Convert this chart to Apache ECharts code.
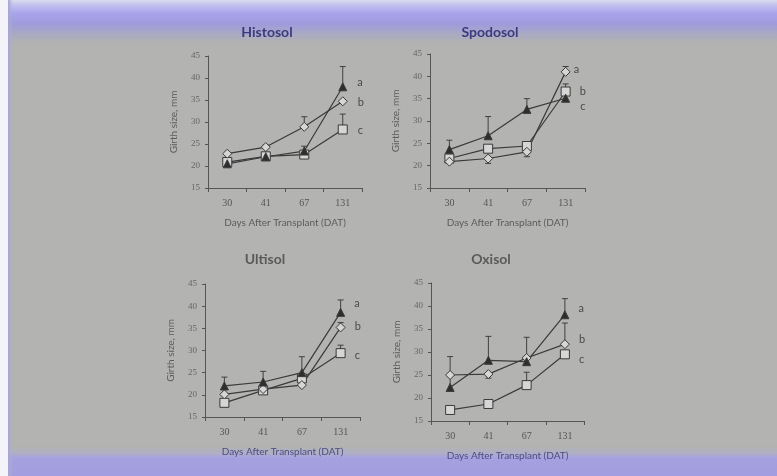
<!DOCTYPE html>
<html><head><meta charset="utf-8">
<script src="https://cdn.jsdelivr.net/npm/echarts@6/dist/echarts.min.js"></script>
<style>html,body{margin:0;padding:0;background:#b3b3b1}#c{width:777px;height:476px}</style>
</head><body><div id="c"></div>
<script>
const categories = ['30', '41', '67', '131'];
const panelTitles = ['Histosol', 'Spodosol', 'Ultisol', 'Oxisol'];
const yMin = 15, yMax = 45, yStep = 5;

// Histosol
const histosolTriangle = [20.5, 22.1, 23.4, 38.0];
const histosolDiamond  = [22.8, 24.3, 28.9, 34.7];
const histosolSquare   = [20.9, 22.2, 22.6, 28.3];
const histosolTriangleErr = [null, null, 24.5, 42.6];
const histosolDiamondErr  = [null, 24.8, 31.2, null];
const histosolSquareErr   = [null, null, null, 31.8];
const histosolLetters = ['a', 'b', 'c'];

// Spodosol
const spodosolTriangle = [23.6, 26.7, 32.6, 35.1];
const spodosolDiamond  = [20.9, 21.6, 23.1, 41.0];
const spodosolSquare   = [21.6, 23.8, 24.4, 36.6];
const spodosolTriangleErr = [25.7, 31.0, 35.0, null];
const spodosolDiamondErr  = [null, 20.5, 22.0, 42.2];
const spodosolSquareErr   = [null, null, null, 38.3];
const spodosolLetters = ['c', 'a', 'b'];

// Ultisol
const ultisolTriangle = [22.0, 22.9, 25.0, 38.6];
const ultisolDiamond  = [20.1, 21.3, 22.2, 35.2];
const ultisolSquare   = [18.2, 21.0, 23.7, 29.4];
const ultisolTriangleErr = [24.0, 25.3, 28.6, 41.4];
const ultisolDiamondErr  = [null, null, null, 36.3];
const ultisolSquareErr   = [null, null, null, 31.2];
const ultisolLetters = ['a', 'b', 'c'];

// Oxisol
const oxisolTriangle = [22.3, 28.2, 27.9, 38.1];
const oxisolDiamond  = [25.0, 25.2, 28.7, 31.7];
const oxisolSquare   = [17.4, 18.7, 22.8, 29.5];
const oxisolTriangleErr = [29.0, 33.4, 33.2, 41.6];
const oxisolDiamondErr  = [null, 24.3, null, 36.3];
const oxisolSquareErr   = [null, null, 25.6, null];
const oxisolLetters = ['a', 'b', 'c'];

const panels = [
  {tri: histosolTriangle, dia: histosolDiamond, sq: histosolSquare,
   triErr: histosolTriangleErr, diaErr: histosolDiamondErr, sqErr: histosolSquareErr, letters: histosolLetters},
  {tri: spodosolTriangle, dia: spodosolDiamond, sq: spodosolSquare,
   triErr: spodosolTriangleErr, diaErr: spodosolDiamondErr, sqErr: spodosolSquareErr, letters: spodosolLetters},
  {tri: ultisolTriangle, dia: ultisolDiamond, sq: ultisolSquare,
   triErr: ultisolTriangleErr, diaErr: ultisolDiamondErr, sqErr: ultisolSquareErr, letters: ultisolLetters},
  {tri: oxisolTriangle, dia: oxisolDiamond, sq: oxisolSquare,
   triErr: oxisolTriangleErr, diaErr: oxisolDiamondErr, sqErr: oxisolSquareErr, letters: oxisolLetters}
];

// layout (pixels)
const grids = [
  {left: 208, top: 56, width: 154, height: 132},
  {left: 430, top: 54, width: 155, height: 134},
  {left: 205, top: 284, width: 155, height: 133},
  {left: 431, top: 283, width: 153, height: 138}
];
const titlePos = [
  {x: 262, y: 20, color: '#3b3a82'},
  {x: 485, y: 20, color: '#3b3a82'},
  {x: 260, y: 247, color: '#5a5a5a'},
  {x: 486, y: 247, color: '#5a5a5a'}
];
// letter label offsets [dx, dy] per (triangle, diamond, square)
const letterOffsets = [
  [[10, -4], [10, 1], [10, 1]],
  [[10, 8], [3, -2], [9, 0]],
  [[9, -9], [9, -1], [9, 2]],
  [[9, -6], [9, -5], [9, 5]]
];
const nameColors = ['#5c5c5c', '#5c5c5c', '#4d4c86', '#4d4c86'];

const lineColor = '#3a3a3a';
const openFill = '#d6d6d6';

function errData(vals, ends) {
  const out = [];
  vals.forEach((v, i) => { if (ends[i] != null) out.push([i, v, ends[i]]); });
  return out;
}
function errSeries(gi, vals, ends) {
  return {
    type: 'custom', xAxisIndex: gi, yAxisIndex: gi, z: 1, silent: true,
    data: errData(vals, ends),
    renderItem: function (params, api) {
      const p = api.coord([api.value(0), api.value(1)]);
      const e = api.coord([api.value(0), api.value(2)]);
      const st = {stroke: '#404040', lineWidth: 1};
      return {type: 'group', children: [
        {type: 'line', shape: {x1: p[0], y1: p[1], x2: e[0], y2: e[1]}, style: st},
        {type: 'line', shape: {x1: e[0] - 3, y1: e[1], x2: e[0] + 3, y2: e[1]}, style: st}
      ]};
    }
  };
}
function lineSeries(gi, vals, symbol, size, fill, letter, off) {
  return {
    type: 'line', xAxisIndex: gi, yAxisIndex: gi, z: 3,
    symbol: symbol, symbolSize: size, showAllSymbol: true,
    lineStyle: {color: lineColor, width: 1.2},
    itemStyle: {color: fill, borderColor: lineColor, borderWidth: 1},
    data: vals.map((v, i) => i === vals.length - 1 ? {
      value: v,
      label: {show: true, position: 'right', distance: off[0], offset: [0, off[1]],
              formatter: letter, color: '#4a4a4a', fontSize: 11, fontFamily: 'Lato'}
    } : v)
  };
}

const option = {
  backgroundColor: '#b3b3b1',
  animation: false,
  graphic: [
    {type: 'rect', z: -10, shape: {x: 0, y: 0, width: 777, height: 44},
     style: {fill: {type: 'linear', x: 0, y: 0, x2: 0, y2: 1, colorStops: [
       {offset: 0, color: '#dcdcef'}, {offset: 0.12, color: '#c2c0f0'},
       {offset: 0.3, color: '#a8a4ec'}, {offset: 0.55, color: '#9f9bdc'},
       {offset: 0.75, color: '#a9a8c4'}, {offset: 1, color: '#b3b3b1'}]}}},
    {type: 'rect', z: -10, shape: {x: 0, y: 446, width: 777, height: 30},
     style: {fill: {type: 'linear', x: 0, y: 0, x2: 0, y2: 1, colorStops: [
       {offset: 0, color: '#b3b3b1'}, {offset: 0.25, color: '#afaec6'},
       {offset: 0.4, color: '#a5a1e0'}, {offset: 1, color: '#a29edf'}]}}},
    {type: 'rect', z: -9, shape: {x: 0, y: 0, width: 8, height: 476}, style: {fill: '#f4f4f8'}},
    {type: 'rect', z: -9, shape: {x: 8, y: 0, width: 5, height: 476},
     style: {fill: {type: 'linear', x: 0, y: 0, x2: 1, y2: 0, colorStops: [
       {offset: 0, color: '#a6a2e2'}, {offset: 1, color: 'rgba(179,179,177,0)'}]}}}
  ],
  title: titlePos.map((t, i) => ({
    text: panelTitles[i], left: t.x, top: t.y, textAlign: 'center',
    textStyle: {fontFamily: 'Lato', fontWeight: 'bold', fontSize: 14, color: t.color}
  })),
  grid: grids.map(g => ({left: g.left, top: g.top, width: g.width, height: g.height})),
  xAxis: grids.map((g, i) => ({
    type: 'category', gridIndex: i, data: categories, boundaryGap: true,
    name: 'Days After Transplant (DAT)', nameLocation: 'middle', nameGap: 30,
    nameTextStyle: {fontFamily: 'Lato', fontSize: 10, color: nameColors[i]},
    axisLine: {lineStyle: {color: '#555', width: 1}},
    axisTick: {show: true, length: 4, lineStyle: {color: '#555'}},
    axisLabel: {fontFamily: 'Liberation Serif', fontSize: 10, color: '#555', margin: 10},
    splitLine: {show: false}
  })),
  yAxis: grids.map((g, i) => ({
    type: 'value', gridIndex: i, min: yMin, max: yMax, interval: yStep,
    name: 'Girth size, mm', nameLocation: 'middle', nameGap: 29, nameRotate: 90,
    nameTextStyle: {fontFamily: 'Lato', fontSize: 10, color: '#5c5c5c'},
    axisLine: {show: true, lineStyle: {color: '#555', width: 1}},
    axisTick: {show: true, length: 3, lineStyle: {color: '#555'}},
    axisLabel: {fontFamily: 'Liberation Serif', fontSize: 9, color: '#666', margin: 8},
    splitLine: {show: false}
  })),
  series: []
};

panels.forEach((p, gi) => {
  option.series.push(errSeries(gi, p.tri, p.triErr));
  option.series.push(errSeries(gi, p.dia, p.diaErr));
  option.series.push(errSeries(gi, p.sq, p.sqErr));
  option.series.push(lineSeries(gi, p.sq, 'rect', 9, openFill, p.letters[2], letterOffsets[gi][2]));
  option.series.push(lineSeries(gi, p.dia, 'diamond', 9, openFill, p.letters[1], letterOffsets[gi][1]));
  option.series.push(lineSeries(gi, p.tri, 'triangle', 8, '#2e2e2e', p.letters[0], letterOffsets[gi][0]));
});

const chart = echarts.init(document.getElementById('c'));
chart.setOption(option);
</script>
</body></html>
